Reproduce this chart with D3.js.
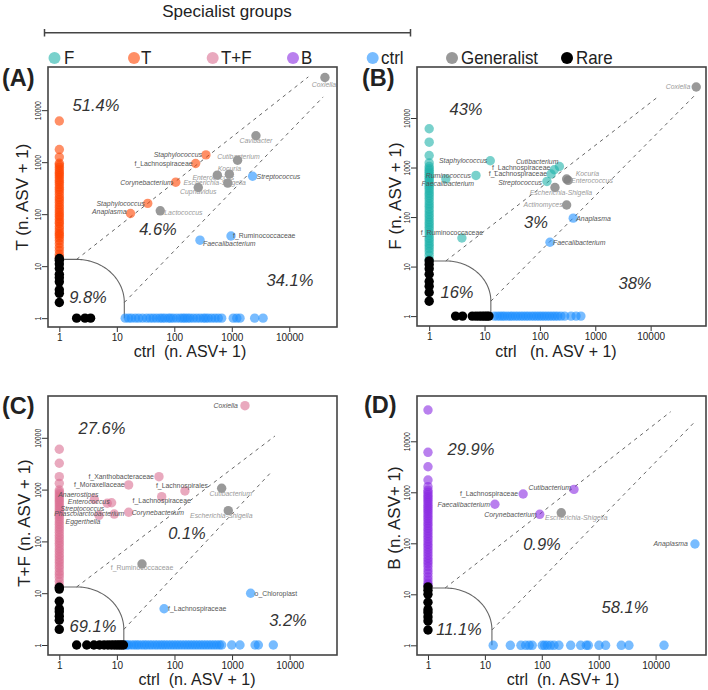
<!DOCTYPE html>
<html><head><meta charset="utf-8">
<script src="https://cdn.jsdelivr.net/npm/d3@7"></script>
<style>
body{margin:0;background:#fff}
svg{display:block;font-family:"Liberation Sans",Arial,Helvetica,sans-serif}
text{white-space:pre}
</style>
</head><body>
<svg id="c" width="708" height="690"></svg>
<script>
// ---------------- DATA ----------------
const groups = ["F","T","T+F","B","ctrl","Generalist","Rare"];
const tickValues = [1,10,100,1000,10000];
const tickLabels = ["1","10","100","1000","10000"];

// Panel A : T vs ctrl
const A_specialistCol = [6200,1750,1250,950,880,800,720,650,600,550,500,450,410,370,330,300,270,240,210,190,170,150,135,120,108,97,89,80,71,66,58,52,46,42,39,35,31,27,23,20,17,15];
const A_ctrlRow = [14,16,18,21,24,28,33,38,43,49,56,62,69,79,86,96,110,126,140,153,170,188,214,245,280,319,350,390,446,510,582,667,1060,1220,1390,2500,3500];
const A_rareCol = [14,13,11,9,7,6,5,3.5,3,2];
const A_rareRow = [2,2.8,3.5];
const A_labeled = [
  {name:"Coxiella",group:"Generalist",ctrl:41700,val:42500},
  {name:"Cavibacter",group:"Generalist",ctrl:2630,val:3220},
  {name:"Staphylococcus",group:"T",ctrl:355,val:1380},
  {name:"Cutibacterium",group:"Generalist",ctrl:1260,val:1090},
  {name:"f_Lachnospiraceae",group:"T",ctrl:235,val:944},
  {name:"Kocuria",group:"Generalist",ctrl:906,val:588},
  {name:"Enterococcus",group:"Generalist",ctrl:560,val:562},
  {name:"Streptococcus",group:"ctrl",ctrl:2300,val:537},
  {name:"Corynebacterium",group:"T",ctrl:106,val:412},
  {name:"Escherichia-Shigella",group:"Generalist",ctrl:850,val:396},
  {name:"Cupriavidus",group:"Generalist",ctrl:261,val:326},
  {name:"Staphylococcus",group:"T",ctrl:34.5,val:161},
  {name:"Anaplasma",group:"T",ctrl:17.3,val:103},
  {name:"Lactococcus",group:"Generalist",ctrl:57,val:116},
  {name:"f_Ruminococcaceae",group:"ctrl",ctrl:969,val:38},
  {name:"Faecalibacterium",group:"ctrl",ctrl:280,val:31.6}
];
const A_percents = ["51.4%","4.6%","34.1%","9.8%"];

// Panel B : F vs ctrl
const B_specialistCol = [6060,3250,1750,1240,1050,950,870,800,730,670,610,560,510,460,420,380,340,300,270,240,210,185,165,145,128,112,100,88,78,70,62,55,48,42,37,33,29,26,23,20,17,14];
const B_ctrlRow = [15,17,19,21,23,26,29,32,36,40,45,50,56,62,70,78,87,97,108,120,134,150,168,188,210,240,280,365,450,550];
const B_rareCol = [13,11,9,7,5,4,3,2];
const B_rareRow = [3,4,6,7,8,9,10,11,12];
const B_labeled = [
  {name:"Coxiella",group:"Generalist",ctrl:66600,val:42300},
  {name:"Staphylococcus",group:"F",ctrl:12.7,val:1372},
  {name:"Ruminococcus",group:"F",ctrl:7,val:692},
  {name:"Faecalibacterium",group:"F",ctrl:2,val:586},
  {name:"Cutibacterium",group:"F",ctrl:225,val:1050},
  {name:"f_Lachnospiraceae",group:"F",ctrl:182,val:903},
  {name:"f_Lachnospiraceae",group:"F",ctrl:159,val:741},
  {name:"Streptococcus",group:"F",ctrl:134,val:524},
  {name:"Kocuria",group:"Generalist",ctrl:304,val:586},
  {name:"Enterococcus",group:"Generalist",ctrl:323,val:550},
  {name:"Escherichia-Shigella",group:"Generalist",ctrl:187,val:395},
  {name:"Actinomyces",group:"Generalist",ctrl:304,val:175},
  {name:"Anaplasma",group:"ctrl",ctrl:400,val:95},
  {name:"f_Ruminococcaceae",group:"F",ctrl:3.9,val:37.7},
  {name:"Faecalibacterium",group:"ctrl",ctrl:152,val:31}
];
const B_percents = ["43%","3%","38%","16%"];

// Panel C : T+F vs ctrl
const C_specialistCol = [6000,3220,1780,1320,980,900,820,750,690,630,580,530,480,440,400,360,330,300,270,240,215,190,170,150,132,117,104,92,82,72,64,56,50,44,39,34,30,26,23,20,17,14.4];
const C_ctrlRow = [14,15,16,18,20,22,24,27,30,33,37,41,46,51,57,63,70,78,87,97,108,120,134,150,167,186,207,230,256,285,317,353,393,437,487,542,603,660,985,1372,2510,2860,5200];
const C_rareCol = [13,12,7,5,4.4,3.6,3,2];
const C_rareRow = [2,3,4,5,6,7,8,9,10,11,12,13];
const C_labeled = [
  {name:"Coxiella",group:"T+F",ctrl:1675,val:41700},
  {name:"f_Xanthobacteraceae",group:"T+F",ctrl:53.8,val:1775},
  {name:"f_Moraxellaceae",group:"T+F",ctrl:16,val:1230},
  {name:"f_Lachnospirales",group:"T+F",ctrl:152,val:940},
  {name:"Cutibacterium",group:"Generalist",ctrl:660,val:1060},
  {name:"f_Lachnospiraceae",group:"T+F",ctrl:60,val:730},
  {name:"Anaerostipes",group:"T+F",ctrl:4.06,val:648},
  {name:"Enterococcus",group:"T+F",ctrl:8.1,val:558},
  {name:"Streptococcus",group:"T+F",ctrl:6.8,val:544},
  {name:"Phascolarctobacterium",group:"T+F",ctrl:9,val:337},
  {name:"Eggerthella",group:"T+F",ctrl:4.9,val:319},
  {name:"Corynebacterium",group:"T+F",ctrl:16,val:365},
  {name:"Escherichia-Shigella",group:"Generalist",ctrl:859,val:392},
  {name:"f_Ruminococcaceae",group:"Generalist",ctrl:27.3,val:36.6},
  {name:"o_Chloroplast",group:"ctrl",ctrl:2100,val:10},
  {name:"f_Lachnospiraceae",group:"ctrl",ctrl:66,val:5}
];
const C_percents = ["27.6%","0.1%","69.1%","3.2%"];

// Panel D : B vs ctrl
const D_specialistCol = [41000,6080,3170,1740,1290,1100,1000,900,820,750,680,620,560,510,460,420,380,340,305,275,245,220,195,175,155,138,122,108,96,85,75,66,58,51,45,40,35,30,26,22,19,16.5,15];
const D_ctrlRow = [14,28,43,52,60,68,102,112,125,143,164,200,322,482,606,657,1012,1324,2497,3400,14060];
const D_rareCol = [14,12,10,7,5,4.4,3.6,3,2];
const D_rareRow = [];
const D_labeled = [
  {name:"Cutibacterium",group:"B",ctrl:368,val:1140},
  {name:"f_Lachnospiraceae",group:"B",ctrl:47,val:926},
  {name:"Faecalibacterium",group:"B",ctrl:15,val:582},
  {name:"Corynebacterium",group:"B",ctrl:92,val:370},
  {name:"Escherichia-Shigella",group:"Generalist",ctrl:220,val:398},
  {name:"Anaplasma",group:"ctrl",ctrl:49200,val:97}
];
const D_percents = ["29.9%","0.9%","58.1%","11.1%"];

// rare-zone thresholds and ends of the dashed guide lines (data units)
const A_guide = {threshold:13.5, upperEnd:[21400,43600], lowerEnd:[38900,18000]};
const B_guide = {threshold:13,   upperEnd:[12600,25100], lowerEnd:[61700,28200]};
const C_guide = {threshold:13.2, upperEnd:[5560,10840],  lowerEnd:[4680,2120]};
const D_guide = {threshold:13.3, upperEnd:[18400,38000], lowerEnd:[47300,23200]};

// ---------------- STYLE / LAYOUT ----------------
const colors = {"F":"#20B2AA","T":"#FF4500","T+F":"#DB7093","B":"#8A2BE2","ctrl":"#1E90FF","Generalist":"#7f7f7f","Rare":"#000000"};
const opac = {"F":0.6,"T":0.6,"T+F":0.6,"B":0.6,"ctrl":0.6,"Generalist":0.8,"Rare":1};
const R = 4.7;

const panels = [
 {tag:"(A)", spec:"T", col:A_specialistCol,row:A_ctrlRow,rareCol:A_rareCol,rareRow:A_rareRow,lab:A_labeled,pct:A_percents,guide:A_guide,
  yTitle:"T (n. ASV + 1)", xTitle:"ctrl  (n. ASV+ 1)",
  L:{box:[48,67,337,327], xDom:[-0.197,4.83], yDom:[-0.17,4.83], tagXY:[2,86], yT:[22,197], xT:[190,357],
     pctXY:[[96,105],[158,229],[290,280],[88,297]],
     lp:[[-1,7,"middle"],[0,5,"middle"],[-4,0,"end"],[1,-4,"middle"],[-3,0,"end"],[0,-6,"middle"],[-4,2,"middle"],[4,0,"start"],[-3,0,"end"],[-13,0,"middle"],[0,4.5,"middle"],[-3,0,"end"],[-4,-1.5,"end"],[4,1.5,"start"],[2,0,"start"],[3,3,"start"]]}},
 {tag:"(B)", spec:"F", col:B_specialistCol,row:B_ctrlRow,rareCol:B_rareCol,rareRow:B_rareRow,lab:B_labeled,pct:B_percents,guide:B_guide,
  yTitle:"F (n. ASV + 1)", xTitle:"ctrl   (n. ASV + 1)",
  L:{box:[417,67,706,326], xDom:[-0.22,5.0], yDom:[-0.2,5.03], tagXY:[362,86], yT:[395,196], xT:[556,357],
     pctXY:[[466,109],[536,222],[635,283],[457,292]],
     lp:[[-6,0,"end"],[-3,0,"end"],[-5,0,"end"],[2,5,"middle"],[-1,-5,"end"],[-4,-2,"end"],[-4,0,"end"],[-5,1.5,"end"],[9,-5,"start"],[3,0,"start"],[6,5,"middle"],[-4,0,"end"],[3,0,"start"],[-10,-5,"middle"],[3,0,"start"]]}},
 {tag:"(C)", spec:"T+F", col:C_specialistCol,row:C_ctrlRow,rareCol:C_rareCol,rareRow:C_rareRow,lab:C_labeled,pct:C_percents,guide:C_guide,
  yTitle:"T+F (n. ASV + 1)", xTitle:"ctrl  (n. ASV + 1)",
  L:{box:[48,396,337,655], xDom:[-0.196,4.822], yDom:[-0.193,4.807], tagXY:[2,414], yT:[24,523], xT:[197,685],
     pctXY:[[102,428],[187,533],[93,626],[288,620]],
     lp:[[-7,0,"end"],[-5,0,"end"],[-4,0,"end"],[-3,-5,"middle"],[9,5,"middle"],[0,4,"middle"],[-16,-4.5,"middle"],[-2,-1,"end"],[-3,5,"end"],[-25,0,"middle"],[-16,6,"middle"],[3,0,"start"],[-7,5,"middle"],[0,4,"middle"],[4,0,"start"],[4,0,"start"]]}},
 {tag:"(D)", spec:"B", col:D_specialistCol,row:D_ctrlRow,rareCol:D_rareCol,rareRow:D_rareRow,lab:D_labeled,pct:D_percents,guide:D_guide,
  yTitle:"B (n. ASV+ 1)", xTitle:"ctrl  (n. ASV+ 1)",
  L:{box:[417,396,706,655], xDom:[-0.193,4.886], yDom:[-0.19,4.888], tagXY:[364,413], yT:[394,518], xT:[563,685],
     pctXY:[[471,449],[542,544],[625,607],[459,629]],
     lp:[[-3,-2,"end"],[-5,0,"end"],[-5,0,"end"],[-3,0,"end"],[15,4.6,"middle"],[-7,0,"end"]]}}
];

const svg = d3.select("#c");

function drawPanel(P){
  const L = P.L;
  const [x0,y0,x1,y1] = L.box;
  const x = d3.scaleLog().domain([10**L.xDom[0],10**L.xDom[1]]).range([x0,x1]);
  const y = d3.scaleLog().domain([10**L.yDom[0],10**L.yDom[1]]).range([y1,y0]);
  const g = svg.append("g");

  // axes
  const gx = g.append("g").attr("transform",`translate(0,${y1})`)
    .call(d3.axisBottom(x).tickValues(tickValues).tickFormat((d,i)=>tickLabels[i]).tickSize(5).tickSizeOuter(0).tickPadding(2));
  gx.select(".domain").remove();
  gx.selectAll("line").attr("stroke","#333");
  gx.selectAll("text").attr("font-size",10).attr("fill","#222").attr("font-family","Liberation Sans, Arial, sans-serif");

  const gy = g.append("g").attr("transform",`translate(${x0},0)`)
    .call(d3.axisLeft(y).tickValues(tickValues).tickFormat((d,i)=>tickLabels[i]).tickSize(6).tickSizeOuter(0));
  gy.select(".domain").remove();
  gy.selectAll("line").attr("stroke","#333");
  gy.selectAll("text").attr("font-size",9.5).attr("fill","#222").attr("font-family","Liberation Sans, Arial, sans-serif")
    .attr("x",0).attr("dy","0.35em").attr("text-anchor","middle")
    .attr("transform","translate(-10.7,0) rotate(-90) scale(0.72,1)");

  // rare-zone curve
  const T = P.guide.threshold, c = Math.log10(2), Rr = Math.log10(T) - c;
  const pts = [[0, c+Rr]];
  for(let i=0;i<=48;i++){ const t = Math.PI/2*(1-i/48); pts.push([c+Rr*Math.cos(t), c+Rr*Math.sin(t)]); }
  pts.push([c+Rr, 0]);
  g.append("path").attr("d", d3.line().x(p=>x(10**p[0])).y(p=>y(10**p[1]))(pts))
    .attr("fill","none").attr("stroke","#666").attr("stroke-width",1.1);

  // dashed guides
  const guides = [[[2,T],P.guide.upperEnd],[[T,2],P.guide.lowerEnd]];
  guides.forEach(s=>{
    g.append("line").attr("x1",x(s[0][0])).attr("y1",y(s[0][1])).attr("x2",x(s[1][0])).attr("y2",y(s[1][1]))
     .attr("stroke","#555").attr("stroke-width",0.9).attr("stroke-dasharray","3.5,4");
  });

  // points
  const addPts = (arr, fx, fy, grp) => {
    g.append("g").selectAll("circle").data(arr).join("circle")
     .attr("cx",d=>x(fx(d))).attr("cy",d=>y(fy(d))).attr("r",R)
     .attr("fill",colors[grp]).attr("fill-opacity",opac[grp]);
  };
  addPts(P.col, d=>1, d=>d, P.spec);
  addPts(P.row, d=>d, d=>1, "ctrl");
  addPts(P.rareCol, d=>1, d=>d, "Rare");
  addPts(P.rareRow, d=>d, d=>1, "Rare");
  g.append("g").selectAll("circle").data(P.lab).join("circle")
   .attr("cx",d=>x(d.ctrl)).attr("cy",d=>y(d.val)).attr("r",R)
   .attr("fill",d=>colors[d.group]).attr("fill-opacity",d=>opac[d.group]);

  // labels
  g.append("g").selectAll("text").data(P.lab).join("text")
   .attr("x",(d,i)=>x(d.ctrl)+L.lp[i][0]).attr("y",(d,i)=>y(d.val)+L.lp[i][1])
   .attr("dy","0.35em").attr("text-anchor",(d,i)=>L.lp[i][2])
   .attr("font-size",6.9)
   .attr("font-style",d=>/^(f_|o_)/.test(d.name)?"normal":"italic")
   .attr("fill",d=>d.group==="Generalist"?"#9a9a9a":"#555")
   .text(d=>d.name);

  // percents
  g.append("g").selectAll("text").data(P.pct).join("text")
   .attr("x",(d,i)=>L.pctXY[i][0]).attr("y",(d,i)=>L.pctXY[i][1]).attr("dy","0.35em")
   .attr("text-anchor","middle").attr("font-size",16.5).attr("font-style","italic").attr("fill","#333")
   .text(d=>d);

  // box
  g.append("rect").attr("x",x0).attr("y",y0).attr("width",x1-x0).attr("height",y1-y0)
   .attr("fill","none").attr("stroke","#444").attr("stroke-width",1.6);

  // titles
  g.append("text").attr("x",L.xT[0]).attr("y",L.xT[1]).attr("text-anchor","middle")
   .attr("font-size",16).attr("fill","#222").text(P.xTitle);
  g.append("text").attr("transform",`translate(${L.yT[0]},${L.yT[1]}) rotate(-90)`).attr("dy","0.35em")
   .attr("text-anchor","middle").attr("font-size",17).attr("fill","#222").text(P.yTitle);
  g.append("text").attr("x",L.tagXY[0]).attr("y",L.tagXY[1]).attr("font-size",23.5).attr("font-weight","bold")
   .attr("fill","#222").text(P.tag);
}
panels.forEach(drawPanel);

// ---------------- LEGEND ----------------
const legendCx = [54.5,134,212.7,293,372.7,452,567];
const legendTx = [64,141,221,301,381,461,576];
const lg = svg.append("g");
lg.append("text").attr("x",227).attr("y",17).attr("text-anchor","middle").attr("font-size",17).attr("fill","#222").text("Specialist groups");
lg.append("path").attr("d","M44.5,29V36.4M44.5,32.7H410.5M410.5,29V36.4").attr("stroke","#444").attr("stroke-width",1.5).attr("fill","none");
lg.selectAll("circle").data(groups).join("circle")
  .attr("cx",(d,i)=>legendCx[i]).attr("cy",58).attr("r",6)
  .attr("fill",d=>colors[d]).attr("fill-opacity",d=>opac[d]);
lg.selectAll("text.lt").data(groups).join("text").attr("class","lt")
  .attr("transform",(d,i)=>`translate(${legendTx[i]},57.5) scale(0.94,1)`).attr("dy","0.35em")
  .attr("font-size",18).attr("fill","#222").text(d=>d);
</script>
</body></html>
